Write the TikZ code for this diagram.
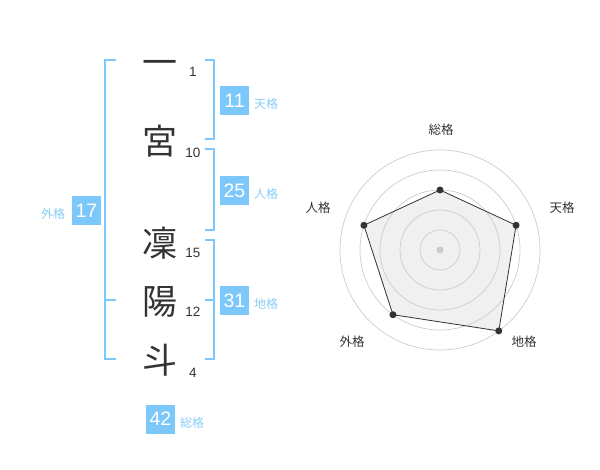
\documentclass[tikz,border=0pt]{standalone}
\usepackage{fontspec}
\setmainfont{Liberation Sans}
\newfontfamily\jpfont{Noto Sans CJK JP}
\usepackage{tikz}
\usetikzlibrary{calc,positioning}

\definecolor{kakublue}{RGB}{124,200,250}
\definecolor{kakutext}{RGB}{135,205,245}
\definecolor{inkgray}{RGB}{51,51,51}
\definecolor{ringgray}{RGB}{204,204,204}
\definecolor{areagray}{RGB}{240,240,240}

\tikzset{
    kanji/.style={text=inkgray,inner sep=0pt,anchor=base,font=\jpfont\fontsize{35}{35}\selectfont},
    strokes/.style={text=inkgray,inner sep=0pt,font=\fontsize{13.5}{13.5}\selectfont},
    kakubox/.style={fill=kakublue,text=white,minimum size=29pt,inner sep=0pt,font=\fontsize{19.5}{19.5}\selectfont},
    kakulabel/.style={text=kakutext,anchor=west,inner sep=0pt,font=\jpfont\fontsize{12}{12}\selectfont},
    bracket/.style={draw=kakublue,line width=2pt},
    ring/.style={draw=ringgray,line width=0.7pt},
    axislabel/.style={text=inkgray,inner sep=0pt,font=\jpfont\fontsize{12.5}{12.5}\selectfont},
    valuedot/.style={circle,fill=inkgray,inner sep=0pt,minimum size=7pt}
}

\begin{document}
\begin{tikzpicture}[x=1pt,y=-1pt]
        \useasboundingbox (0,0) rectangle (600,470);
        % name and stroke counts (kanji on their baselines)
        \foreach \name/\c/\y/\n/\ny in {k1/一/76/1/72, k2/宮/155/10/153, k3/凜/256.5/15/253, k4/陽/315/12/312, k5/斗/373.5/4/373}{
            \node[kanji] (\name) at (160,\y) {\c};
            \node[strokes] (s-\name) at (193,\ny) {\n};
        }
        % brackets
        \draw[bracket] (116,60) -- (105,60) -- (105,359) -- (116,359);
        \draw[bracket] (105,300) -- (116,300);
        \draw[bracket] (205,60) -- (214,60) -- (214,139) -- (205,139);
        \draw[bracket] (205,149) -- (214,149) -- (214,230) -- (205,230);
        \draw[bracket] (205,240) -- (214,240) -- (214,359) -- (205,359);
        \draw[bracket] (214,300) -- (205,300);
        % scores
        \foreach \name/\v/\x/\y/\t/\lx in {ten/11/234.5/100.5/天格/254, jin/25/234.5/190.5/人格/254, chi/31/234.5/300.5/地格/254, gai/17/86.5/210.5/外格/41, sou/42/160.5/419/総格/180}{
            \node[kakubox] (b-\name) at (\x,\y) {\v};
            \node[kakulabel] (l-\name) at (\lx,\y+3.5) {\t};
        }
        % radar chart
        \coordinate (c) at (440,250);
        \foreach \name/\a/\r in {sou/90/60, ten/18/80, chi/-54/100, gai/-126/80, jin/162/80}
            \coordinate (p-\name) at ($(c)+(\a:\r pt)$);
        \fill[areagray] (p-sou) -- (p-ten) -- (p-chi) -- (p-gai) -- (p-jin) -- cycle;
        \foreach \r in {20,40,60,80,100}
            \draw[ring] (c) circle (\r);
        \fill[ringgray] (c) circle (3.5);
        \draw[inkgray,line width=0.8pt] (p-sou) -- (p-ten) -- (p-chi) -- (p-gai) -- (p-jin) -- cycle;
        \foreach \name in {sou,ten,chi,gai,jin}
            \node[valuedot] (d-\name) at (p-\name) {};
        \foreach \name/\t/\x/\y in {sou/総格/441/130, ten/天格/562/208, chi/地格/524/342, gai/外格/352/342, jin/人格/318/208}
            \node[axislabel] (a-\name) at (\x,\y) {\t};
    \end{tikzpicture}
\end{document}
